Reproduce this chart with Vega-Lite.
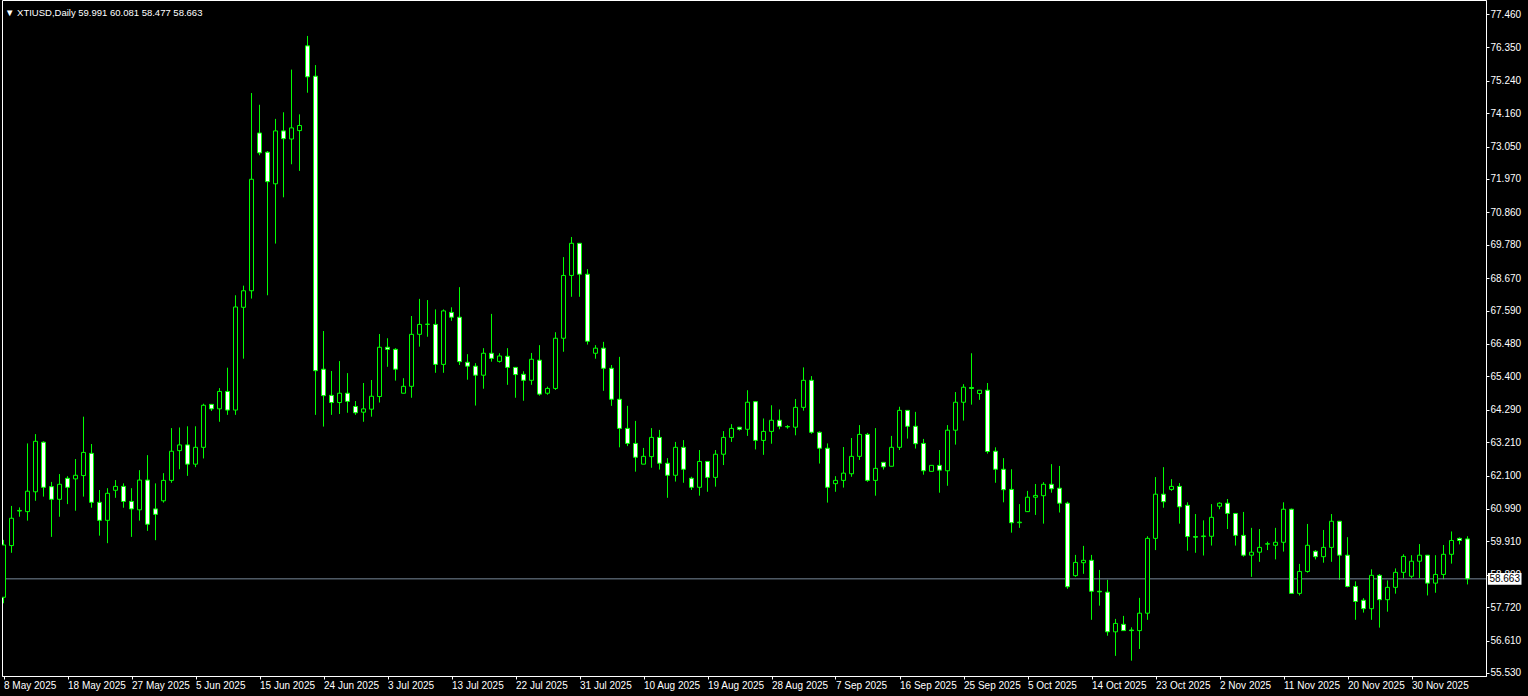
{
  "$schema": "https://vega.github.io/schema/vega-lite/v6.json",
  "width": 1484,
  "height": 676,
  "autosize": {"type": "none"},
  "padding": {"left": 2, "top": 0, "right": 42, "bottom": 20},
  "background": "#000000",
  "title": {"text": "▼ XTIUSD,Daily  59.991 60.081 58.477 58.663", "anchor": "start", "frame": "group", "orient": "top", "offset": -17, "dx": 3, "color": "#ffffff", "font": "Liberation Sans", "fontSize": 9.5, "fontWeight": "normal"},
  "config": {
    "view": {"stroke": "#ffffff", "strokeWidth": 1},
    "scale": {"continuousPadding": 0},
    "axis": {"domainColor": "#ffffff", "tickColor": "#ffffff", "labelColor": "#ffffff", "labelFont": "Liberation Sans", "labelFontSize": 10, "grid": false, "labelOverlap": false, "labelFlush": false, "labelBound": false}
  },
  "datasets": {
    "candles": [
    {"i":0,"d":"8 May 2025","o":58.05,"h":59.96,"l":57.85,"c":59.79},
    {"i":1,"d":"9 May 2025","o":59.77,"h":61.09,"l":59.53,"c":60.68},
    {"i":2,"d":"11 May 2025","o":60.92,"h":61.04,"l":60.73,"c":60.94},
    {"i":3,"d":"12 May 2025","o":60.90,"h":63.17,"l":60.60,"c":61.58},
    {"i":4,"d":"13 May 2025","o":61.56,"h":63.48,"l":61.26,"c":63.24},
    {"i":5,"d":"14 May 2025","o":63.21,"h":63.24,"l":61.40,"c":61.71},
    {"i":6,"d":"15 May 2025","o":61.73,"h":61.89,"l":60.06,"c":61.31},
    {"i":7,"d":"16 May 2025","o":61.31,"h":62.15,"l":60.73,"c":61.81},
    {"i":8,"d":"18 May 2025","o":62.01,"h":62.08,"l":61.15,"c":61.71},
    {"i":9,"d":"19 May 2025","o":61.99,"h":62.65,"l":60.93,"c":62.11},
    {"i":10,"d":"20 May 2025","o":62.10,"h":64.06,"l":61.40,"c":62.87},
    {"i":11,"d":"21 May 2025","o":62.84,"h":63.15,"l":61.03,"c":61.21},
    {"i":12,"d":"22 May 2025","o":61.21,"h":61.62,"l":60.10,"c":60.61},
    {"i":13,"d":"23 May 2025","o":60.61,"h":61.68,"l":59.85,"c":61.51},
    {"i":14,"d":"25 May 2025","o":61.61,"h":61.95,"l":61.36,"c":61.74},
    {"i":15,"d":"26 May 2025","o":61.74,"h":61.84,"l":61.03,"c":61.24},
    {"i":16,"d":"27 May 2025","o":61.24,"h":61.68,"l":60.06,"c":60.99},
    {"i":17,"d":"28 May 2025","o":60.96,"h":62.28,"l":60.60,"c":61.95},
    {"i":18,"d":"29 May 2025","o":61.95,"h":62.78,"l":60.26,"c":60.48},
    {"i":19,"d":"30 May 2025","o":60.99,"h":61.84,"l":59.95,"c":60.81},
    {"i":20,"d":"1 Jun 2025","o":61.26,"h":62.18,"l":61.20,"c":61.94},
    {"i":21,"d":"2 Jun 2025","o":61.94,"h":63.68,"l":61.86,"c":62.91},
    {"i":22,"d":"3 Jun 2025","o":62.93,"h":63.70,"l":62.31,"c":63.12},
    {"i":23,"d":"4 Jun 2025","o":63.12,"h":63.74,"l":62.09,"c":62.48},
    {"i":24,"d":"5 Jun 2025","o":62.48,"h":63.74,"l":62.38,"c":63.04},
    {"i":25,"d":"6 Jun 2025","o":63.04,"h":64.49,"l":62.67,"c":64.44},
    {"i":26,"d":"8 Jun 2025","o":64.47,"h":64.47,"l":64.25,"c":64.32},
    {"i":27,"d":"9 Jun 2025","o":64.32,"h":65.01,"l":63.89,"c":64.90},
    {"i":28,"d":"10 Jun 2025","o":64.90,"h":65.69,"l":64.12,"c":64.28},
    {"i":29,"d":"11 Jun 2025","o":64.28,"h":68.10,"l":64.12,"c":67.71},
    {"i":30,"d":"12 Jun 2025","o":67.70,"h":68.42,"l":65.99,"c":68.25},
    {"i":31,"d":"13 Jun 2025","o":68.25,"h":74.83,"l":67.99,"c":71.96},
    {"i":32,"d":"15 Jun 2025","o":73.50,"h":74.44,"l":72.76,"c":72.84},
    {"i":33,"d":"16 Jun 2025","o":72.86,"h":72.90,"l":68.10,"c":71.88},
    {"i":34,"d":"17 Jun 2025","o":71.81,"h":73.97,"l":69.82,"c":73.57},
    {"i":35,"d":"18 Jun 2025","o":73.57,"h":74.19,"l":71.36,"c":73.31},
    {"i":36,"d":"19 Jun 2025","o":73.30,"h":75.61,"l":72.46,"c":73.67},
    {"i":37,"d":"20 Jun 2025","o":73.58,"h":74.12,"l":72.24,"c":73.75},
    {"i":38,"d":"22 Jun 2025","o":76.40,"h":76.73,"l":74.84,"c":75.37},
    {"i":39,"d":"23 Jun 2025","o":75.39,"h":75.76,"l":64.12,"c":65.59},
    {"i":40,"d":"24 Jun 2025","o":65.64,"h":66.91,"l":63.73,"c":64.76},
    {"i":41,"d":"25 Jun 2025","o":64.77,"h":65.58,"l":64.12,"c":64.53},
    {"i":42,"d":"26 Jun 2025","o":64.53,"h":65.91,"l":64.15,"c":64.84},
    {"i":43,"d":"27 Jun 2025","o":64.84,"h":65.51,"l":64.19,"c":64.57},
    {"i":44,"d":"29 Jun 2025","o":64.40,"h":64.58,"l":64.12,"c":64.19},
    {"i":45,"d":"30 Jun 2025","o":64.21,"h":65.18,"l":63.89,"c":64.32},
    {"i":46,"d":"1 Jul 2025","o":64.31,"h":65.28,"l":64.06,"c":64.74},
    {"i":47,"d":"2 Jul 2025","o":64.73,"h":66.81,"l":64.53,"c":66.37},
    {"i":48,"d":"3 Jul 2025","o":66.37,"h":66.67,"l":65.72,"c":66.30},
    {"i":49,"d":"4 Jul 2025","o":66.30,"h":66.34,"l":65.26,"c":65.64},
    {"i":50,"d":"6 Jul 2025","o":64.84,"h":65.34,"l":64.84,"c":65.07},
    {"i":51,"d":"7 Jul 2025","o":65.07,"h":67.41,"l":64.69,"c":66.80},
    {"i":52,"d":"8 Jul 2025","o":66.80,"h":67.98,"l":66.39,"c":67.13},
    {"i":53,"d":"9 Jul 2025","o":67.13,"h":67.94,"l":66.72,"c":67.14},
    {"i":54,"d":"10 Jul 2025","o":67.13,"h":67.63,"l":65.52,"c":65.80},
    {"i":55,"d":"11 Jul 2025","o":65.80,"h":67.63,"l":65.52,"c":67.58},
    {"i":56,"d":"13 Jul 2025","o":67.53,"h":67.70,"l":67.25,"c":67.37},
    {"i":57,"d":"14 Jul 2025","o":67.37,"h":68.37,"l":65.78,"c":65.89},
    {"i":58,"d":"15 Jul 2025","o":65.87,"h":66.14,"l":65.29,"c":65.74},
    {"i":59,"d":"16 Jul 2025","o":65.74,"h":65.84,"l":64.43,"c":65.44},
    {"i":60,"d":"17 Jul 2025","o":65.44,"h":66.34,"l":64.99,"c":66.17},
    {"i":61,"d":"18 Jul 2025","o":66.17,"h":67.48,"l":65.89,"c":66.00},
    {"i":62,"d":"20 Jul 2025","o":65.90,"h":66.17,"l":65.86,"c":66.08},
    {"i":63,"d":"21 Jul 2025","o":66.07,"h":66.34,"l":65.12,"c":65.70},
    {"i":64,"d":"22 Jul 2025","o":65.70,"h":65.70,"l":64.69,"c":65.46},
    {"i":65,"d":"23 Jul 2025","o":65.47,"h":65.57,"l":64.59,"c":65.27},
    {"i":66,"d":"24 Jul 2025","o":65.27,"h":66.18,"l":65.12,"c":65.97},
    {"i":67,"d":"25 Jul 2025","o":65.94,"h":66.44,"l":64.76,"c":64.81},
    {"i":68,"d":"27 Jul 2025","o":64.84,"h":65.06,"l":64.79,"c":65.00},
    {"i":69,"d":"28 Jul 2025","o":65.00,"h":66.87,"l":64.95,"c":66.67},
    {"i":70,"d":"29 Jul 2025","o":66.67,"h":69.37,"l":66.22,"c":68.76},
    {"i":71,"d":"30 Jul 2025","o":68.76,"h":70.04,"l":68.05,"c":69.83},
    {"i":72,"d":"31 Jul 2025","o":69.83,"h":69.83,"l":68.05,"c":68.80},
    {"i":73,"d":"1 Aug 2025","o":68.80,"h":68.97,"l":66.46,"c":66.57},
    {"i":74,"d":"3 Aug 2025","o":66.17,"h":66.44,"l":65.99,"c":66.34},
    {"i":75,"d":"4 Aug 2025","o":66.34,"h":66.55,"l":64.92,"c":65.67},
    {"i":76,"d":"5 Aug 2025","o":65.67,"h":65.78,"l":64.42,"c":64.64},
    {"i":77,"d":"6 Aug 2025","o":64.64,"h":66.05,"l":63.04,"c":63.67},
    {"i":78,"d":"7 Aug 2025","o":63.67,"h":64.42,"l":63.08,"c":63.17},
    {"i":79,"d":"8 Aug 2025","o":63.17,"h":63.92,"l":62.23,"c":62.71},
    {"i":80,"d":"10 Aug 2025","o":62.48,"h":63.02,"l":62.48,"c":62.74},
    {"i":81,"d":"11 Aug 2025","o":62.73,"h":63.68,"l":62.36,"c":63.37},
    {"i":82,"d":"12 Aug 2025","o":63.37,"h":63.62,"l":62.30,"c":62.51},
    {"i":83,"d":"13 Aug 2025","o":62.51,"h":62.68,"l":61.36,"c":62.11},
    {"i":84,"d":"14 Aug 2025","o":62.11,"h":63.22,"l":61.90,"c":63.04},
    {"i":85,"d":"15 Aug 2025","o":63.04,"h":63.28,"l":61.86,"c":62.31},
    {"i":86,"d":"17 Aug 2025","o":62.01,"h":62.06,"l":61.62,"c":61.71},
    {"i":87,"d":"18 Aug 2025","o":61.71,"h":62.95,"l":61.43,"c":62.57},
    {"i":88,"d":"19 Aug 2025","o":62.57,"h":62.57,"l":61.56,"c":62.04},
    {"i":89,"d":"20 Aug 2025","o":62.04,"h":62.95,"l":61.73,"c":62.81},
    {"i":90,"d":"21 Aug 2025","o":62.81,"h":63.58,"l":62.45,"c":63.37},
    {"i":91,"d":"22 Aug 2025","o":63.37,"h":63.81,"l":63.22,"c":63.67},
    {"i":92,"d":"24 Aug 2025","o":63.71,"h":63.71,"l":63.60,"c":63.64},
    {"i":93,"d":"25 Aug 2025","o":63.64,"h":64.94,"l":63.42,"c":64.54},
    {"i":94,"d":"26 Aug 2025","o":64.56,"h":64.56,"l":62.97,"c":63.27},
    {"i":95,"d":"27 Aug 2025","o":63.27,"h":64.00,"l":62.79,"c":63.57},
    {"i":96,"d":"28 Aug 2025","o":63.57,"h":64.44,"l":63.16,"c":63.94},
    {"i":97,"d":"29 Aug 2025","o":63.94,"h":64.30,"l":63.64,"c":63.74},
    {"i":98,"d":"31 Aug 2025","o":63.73,"h":63.78,"l":63.66,"c":63.72},
    {"i":99,"d":"1 Sep 2025","o":63.71,"h":64.65,"l":63.44,"c":64.37},
    {"i":100,"d":"2 Sep 2025","o":64.37,"h":65.70,"l":64.26,"c":65.27},
    {"i":101,"d":"3 Sep 2025","o":65.27,"h":65.41,"l":63.49,"c":63.54},
    {"i":102,"d":"4 Sep 2025","o":63.54,"h":63.57,"l":62.50,"c":63.01},
    {"i":103,"d":"5 Sep 2025","o":63.01,"h":63.17,"l":61.20,"c":61.71},
    {"i":104,"d":"7 Sep 2025","o":61.83,"h":62.08,"l":61.56,"c":61.94},
    {"i":105,"d":"8 Sep 2025","o":61.94,"h":63.05,"l":61.70,"c":62.18},
    {"i":106,"d":"9 Sep 2025","o":62.16,"h":63.35,"l":62.06,"c":62.74},
    {"i":107,"d":"10 Sep 2025","o":62.74,"h":63.78,"l":62.62,"c":63.47},
    {"i":108,"d":"11 Sep 2025","o":63.47,"h":63.52,"l":61.89,"c":61.94},
    {"i":109,"d":"12 Sep 2025","o":61.94,"h":63.68,"l":61.43,"c":62.34},
    {"i":110,"d":"14 Sep 2025","o":62.54,"h":62.54,"l":62.30,"c":62.39},
    {"i":111,"d":"15 Sep 2025","o":62.41,"h":63.42,"l":62.41,"c":63.04},
    {"i":112,"d":"16 Sep 2025","o":63.04,"h":64.39,"l":62.95,"c":64.27},
    {"i":113,"d":"17 Sep 2025","o":64.27,"h":64.27,"l":63.33,"c":63.74},
    {"i":114,"d":"18 Sep 2025","o":63.74,"h":64.22,"l":63.00,"c":63.16},
    {"i":115,"d":"19 Sep 2025","o":63.17,"h":63.32,"l":62.13,"c":62.26},
    {"i":116,"d":"21 Sep 2025","o":62.24,"h":62.44,"l":62.24,"c":62.44},
    {"i":117,"d":"22 Sep 2025","o":62.44,"h":62.95,"l":61.53,"c":62.28},
    {"i":118,"d":"23 Sep 2025","o":62.26,"h":63.78,"l":61.76,"c":63.61},
    {"i":119,"d":"24 Sep 2025","o":63.61,"h":64.88,"l":63.13,"c":64.54},
    {"i":120,"d":"25 Sep 2025","o":64.54,"h":65.14,"l":63.93,"c":65.04},
    {"i":121,"d":"26 Sep 2025","o":65.03,"h":66.17,"l":64.46,"c":65.00},
    {"i":122,"d":"28 Sep 2025","o":64.83,"h":64.94,"l":64.62,"c":64.94},
    {"i":123,"d":"29 Sep 2025","o":64.94,"h":65.18,"l":62.83,"c":62.90},
    {"i":124,"d":"30 Sep 2025","o":62.91,"h":63.04,"l":61.86,"c":62.31},
    {"i":125,"d":"1 Oct 2025","o":62.31,"h":62.68,"l":61.21,"c":61.63},
    {"i":126,"d":"2 Oct 2025","o":61.64,"h":62.31,"l":60.20,"c":60.53},
    {"i":127,"d":"3 Oct 2025","o":60.53,"h":61.15,"l":60.36,"c":60.55},
    {"i":128,"d":"5 Oct 2025","o":60.90,"h":61.59,"l":60.90,"c":61.38},
    {"i":129,"d":"6 Oct 2025","o":61.38,"h":61.82,"l":60.79,"c":61.44},
    {"i":130,"d":"7 Oct 2025","o":61.43,"h":61.88,"l":60.50,"c":61.81},
    {"i":131,"d":"8 Oct 2025","o":61.81,"h":62.48,"l":61.53,"c":61.66},
    {"i":132,"d":"9 Oct 2025","o":61.68,"h":62.42,"l":60.87,"c":61.18},
    {"i":133,"d":"10 Oct 2025","o":61.18,"h":61.23,"l":58.33,"c":58.40},
    {"i":134,"d":"12 Oct 2025","o":58.77,"h":59.46,"l":58.73,"c":59.21},
    {"i":135,"d":"13 Oct 2025","o":59.20,"h":59.76,"l":58.83,"c":59.28},
    {"i":136,"d":"14 Oct 2025","o":59.28,"h":59.46,"l":57.30,"c":58.25},
    {"i":137,"d":"15 Oct 2025","o":58.25,"h":58.96,"l":57.77,"c":58.23},
    {"i":138,"d":"16 Oct 2025","o":58.22,"h":58.63,"l":56.77,"c":56.90},
    {"i":139,"d":"17 Oct 2025","o":56.90,"h":57.33,"l":56.10,"c":57.18},
    {"i":140,"d":"19 Oct 2025","o":57.15,"h":57.43,"l":56.94,"c":56.94},
    {"i":141,"d":"20 Oct 2025","o":56.96,"h":57.05,"l":55.94,"c":56.94},
    {"i":142,"d":"21 Oct 2025","o":56.94,"h":58.03,"l":56.33,"c":57.52},
    {"i":143,"d":"22 Oct 2025","o":57.52,"h":60.08,"l":57.30,"c":60.01},
    {"i":144,"d":"23 Oct 2025","o":60.01,"h":62.05,"l":59.62,"c":61.48},
    {"i":145,"d":"24 Oct 2025","o":61.48,"h":62.38,"l":61.03,"c":61.23},
    {"i":146,"d":"26 Oct 2025","o":61.64,"h":61.98,"l":61.59,"c":61.74},
    {"i":147,"d":"27 Oct 2025","o":61.74,"h":61.85,"l":60.50,"c":61.06},
    {"i":148,"d":"28 Oct 2025","o":61.11,"h":61.21,"l":59.60,"c":60.07},
    {"i":149,"d":"29 Oct 2025","o":60.07,"h":60.82,"l":59.53,"c":60.05},
    {"i":150,"d":"30 Oct 2025","o":60.07,"h":60.61,"l":59.44,"c":60.09},
    {"i":151,"d":"31 Oct 2025","o":60.08,"h":61.15,"l":59.77,"c":60.71},
    {"i":152,"d":"2 Nov 2025","o":61.08,"h":61.21,"l":60.98,"c":61.18},
    {"i":153,"d":"3 Nov 2025","o":61.18,"h":61.32,"l":60.32,"c":60.84},
    {"i":154,"d":"4 Nov 2025","o":60.84,"h":60.84,"l":59.77,"c":60.11},
    {"i":155,"d":"5 Nov 2025","o":60.11,"h":60.89,"l":59.40,"c":59.45},
    {"i":156,"d":"6 Nov 2025","o":59.45,"h":60.36,"l":58.73,"c":59.55},
    {"i":157,"d":"7 Nov 2025","o":59.55,"h":60.32,"l":59.23,"c":59.71},
    {"i":158,"d":"9 Nov 2025","o":59.82,"h":59.90,"l":59.62,"c":59.83},
    {"i":159,"d":"10 Nov 2025","o":59.78,"h":60.36,"l":59.31,"c":59.88},
    {"i":160,"d":"11 Nov 2025","o":59.88,"h":61.21,"l":59.57,"c":60.98},
    {"i":161,"d":"12 Nov 2025","o":60.98,"h":61.00,"l":58.18,"c":58.18},
    {"i":162,"d":"13 Nov 2025","o":58.18,"h":59.16,"l":58.11,"c":58.91},
    {"i":163,"d":"14 Nov 2025","o":58.91,"h":60.49,"l":58.87,"c":59.78},
    {"i":164,"d":"16 Nov 2025","o":59.58,"h":59.62,"l":59.31,"c":59.40},
    {"i":165,"d":"17 Nov 2025","o":59.40,"h":60.29,"l":59.20,"c":59.71},
    {"i":166,"d":"18 Nov 2025","o":59.71,"h":60.82,"l":59.23,"c":60.58},
    {"i":167,"d":"19 Nov 2025","o":60.58,"h":60.58,"l":58.63,"c":59.45},
    {"i":168,"d":"20 Nov 2025","o":59.45,"h":60.05,"l":58.38,"c":58.41},
    {"i":169,"d":"21 Nov 2025","o":58.41,"h":58.58,"l":57.30,"c":57.91},
    {"i":170,"d":"23 Nov 2025","o":57.95,"h":58.02,"l":57.54,"c":57.67},
    {"i":171,"d":"24 Nov 2025","o":57.67,"h":58.98,"l":57.30,"c":58.78},
    {"i":172,"d":"25 Nov 2025","o":58.78,"h":58.82,"l":57.04,"c":57.97},
    {"i":173,"d":"26 Nov 2025","o":57.97,"h":58.61,"l":57.57,"c":58.38},
    {"i":174,"d":"27 Nov 2025","o":58.38,"h":59.01,"l":58.17,"c":58.88},
    {"i":175,"d":"28 Nov 2025","o":58.88,"h":59.48,"l":58.68,"c":59.41},
    {"i":176,"d":"30 Nov 2025","o":58.75,"h":59.45,"l":58.68,"c":59.25},
    {"i":177,"d":"1 Dec 2025","o":59.25,"h":59.82,"l":58.68,"c":59.45},
    {"i":178,"d":"2 Dec 2025","o":59.45,"h":59.45,"l":58.11,"c":58.52},
    {"i":179,"d":"3 Dec 2025","o":58.52,"h":59.45,"l":58.20,"c":58.81},
    {"i":180,"d":"4 Dec 2025","o":58.81,"h":59.79,"l":58.65,"c":59.48},
    {"i":181,"d":"5 Dec 2025","o":59.48,"h":60.24,"l":59.17,"c":59.94},
    {"i":182,"d":"7 Dec 2025","o":60.01,"h":60.04,"l":59.81,"c":59.94},
    {"i":183,"d":"8 Dec 2025","o":59.991,"h":60.081,"l":58.477,"c":58.663}
    ],
    "last": [{"price": 58.663, "label": "58.663"}]
  },
  "layer": [
    {
      "data": {"name": "candles"},
      "mark": {"type": "rule", "color": "#00ff00", "strokeWidth": 1, "clip": true},
      "encoding": {
        "x": {"field": "i", "type": "quantitative", "scale": {"domain": [-0.1875, 185.3125], "nice": false, "zero": false, "padding": 0},
          "axis": {"title": null, "tickCount": 40, "values": [0,8,16,24,32,40,48,56,64,72,80,88,96,104,112,120,128,136,144,152,160,168,176],
            "labelExpr": "['8 May 2025','18 May 2025','27 May 2025','5 Jun 2025','15 Jun 2025','24 Jun 2025','3 Jul 2025','13 Jul 2025','22 Jul 2025','31 Jul 2025','10 Aug 2025','19 Aug 2025','28 Aug 2025','7 Sep 2025','16 Sep 2025','25 Sep 2025','5 Oct 2025','14 Oct 2025','23 Oct 2025','2 Nov 2025','11 Nov 2025','20 Nov 2025','30 Nov 2025'][round(datum.value/8)]",
            "labelAlign": "left", "labelDx": -1, "labelBaseline": "top", "labelPadding": 1, "tickSize": 3, "labelOverlap": false, "labelFlush": false, "labelBound": false}},
        "y": {"field": "l", "type": "quantitative", "scale": {"domain": [55.43, 77.926], "nice": false, "zero": false},
          "axis": {"title": null, "orient": "right", "tickCount": 40, "values": [77.46,76.35,75.24,74.16,73.05,71.97,70.86,69.78,68.67,67.59,66.48,65.4,64.29,63.21,62.1,60.99,59.91,58.8,57.72,56.61,55.53],
            "format": ".3f", "tickSize": 3, "labelPadding": 1, "labelOverlap": false, "labelFlush": false, "labelBound": false}},
        "y2": {"field": "h"}
      }
    },
    {
      "data": {"name": "last"},
      "mark": {"type": "rule", "color": "#778899", "strokeWidth": 1},
      "encoding": {
        "y": {"field": "price", "type": "quantitative", "scale": {"domain": [55.43, 77.926], "nice": false, "zero": false}}
      }
    },
    {
      "data": {"name": "candles"},
      "mark": {"type": "bar", "width": 4, "stroke": "#00ff00", "strokeWidth": 1, "clip": true},
      "encoding": {
        "x": {"field": "i", "type": "quantitative", "scale": {"domain": [-0.1875, 185.3125], "nice": false, "zero": false, "padding": 0}},
        "y": {"field": "o", "type": "quantitative", "scale": {"domain": [55.43, 77.926], "nice": false, "zero": false}},
        "y2": {"field": "c"},
        "fill": {"condition": {"test": "datum.c < datum.o", "value": "#ffffff"}, "value": "#000000"}
      }
    },
    {
      "data": {"name": "last"},
      "mark": {"type": "rect", "fill": "#ffffff", "clip": false},
      "encoding": {
        "x": {"datum": 185.55, "type": "quantitative", "scale": {"domain": [-0.1875, 185.3125], "nice": false, "zero": false, "padding": 0}},
        "x2": {"datum": 189.75},
        "y": {"datum": 58.86, "type": "quantitative", "scale": {"domain": [55.43, 77.926], "nice": false, "zero": false}},
        "y2": {"datum": 58.47}
      }
    },
    {
      "data": {"name": "last"},
      "mark": {"type": "text", "color": "#000000", "font": "Liberation Sans", "fontSize": 10, "align": "center", "baseline": "middle", "clip": false},
      "encoding": {
        "x": {"datum": 187.65, "type": "quantitative", "scale": {"domain": [-0.1875, 185.3125], "nice": false, "zero": false, "padding": 0}},
        "y": {"field": "price", "type": "quantitative", "scale": {"domain": [55.43, 77.926], "nice": false, "zero": false}},
        "text": {"field": "label"}
      }
    }
  ]
}
